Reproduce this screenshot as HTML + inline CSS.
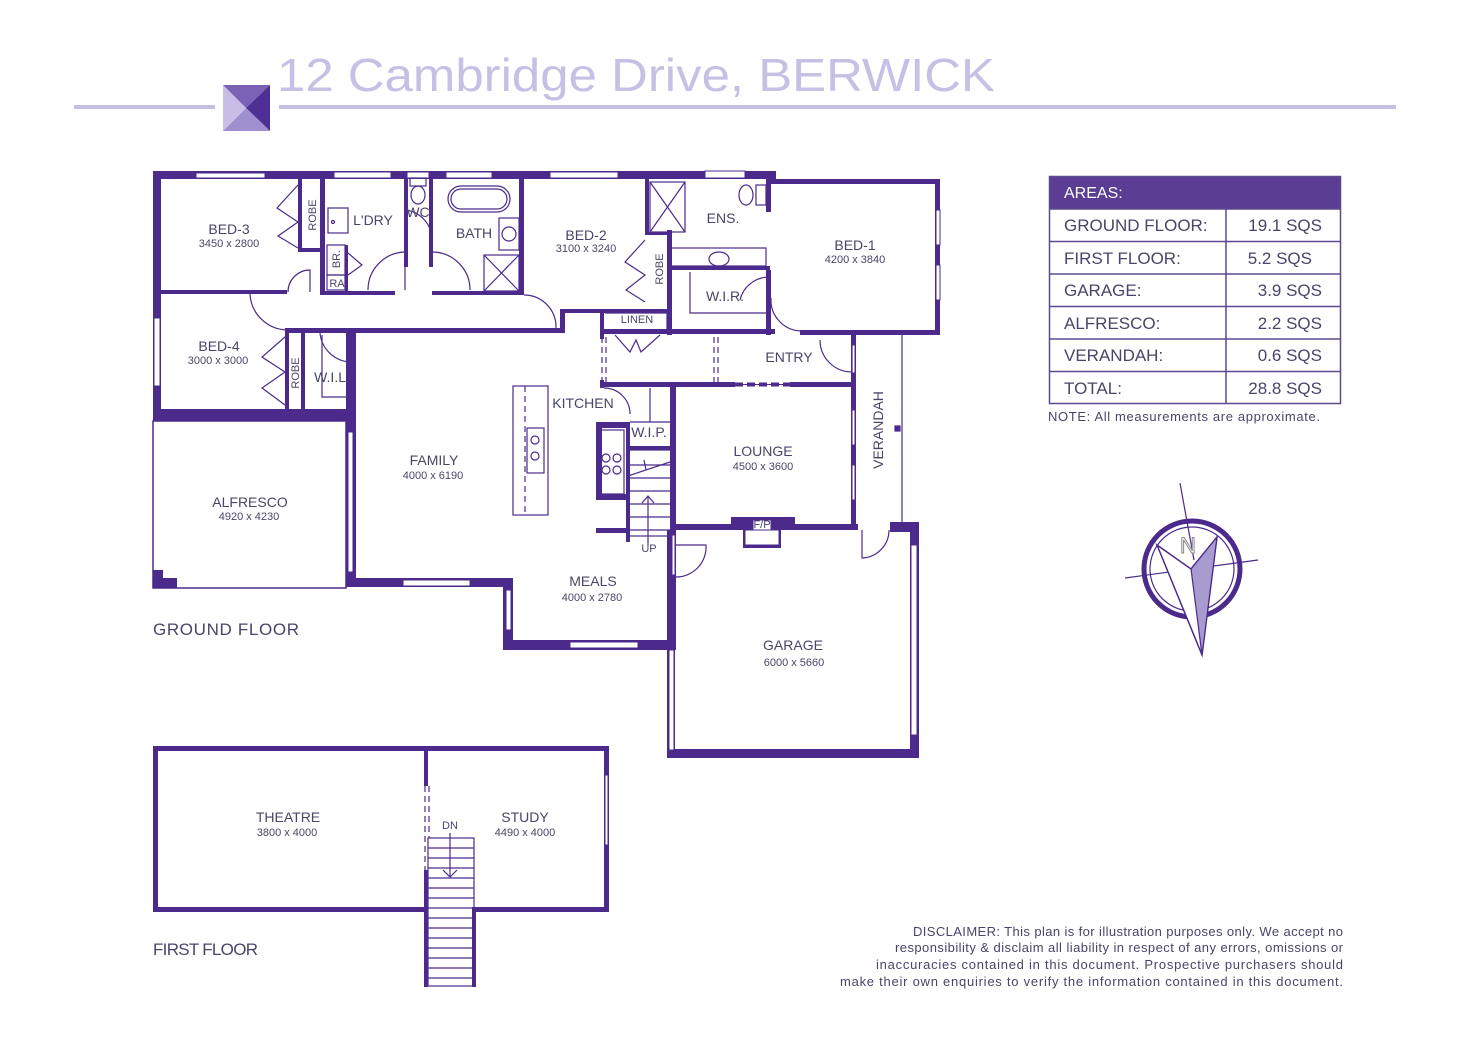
<!DOCTYPE html>
<html><head><meta charset="utf-8"><style>
html,body{margin:0;padding:0;background:#fff;}
svg{display:block;}
text{font-family:"Liberation Sans",sans-serif;}
.n{font-size:14px;fill:#4a4568;text-anchor:middle;}
.d{font-size:11px;fill:#4a4568;text-anchor:middle;}
.s{font-size:12px;fill:#4a4568;text-anchor:middle;}
</style></head><body>
<svg width="1472" height="1041" viewBox="0 0 1472 1041" xmlns="http://www.w3.org/2000/svg">
<!-- header -->
<text x="277" y="91" font-size="46" fill="#c6c1e4" textLength="718" lengthAdjust="spacingAndGlyphs">12 Cambridge Drive, BERWICK</text>
<rect x="74" y="105" width="141" height="4" fill="#c3bfe2"/>
<rect x="279" y="105" width="1117" height="4" fill="#c3bfe2"/>
<polygon points="223,85 270,85 246,108" fill="#7b62b6"/>
<polygon points="270,85 270,131 246,108" fill="#4d2f96"/>
<polygon points="223,131 270,131 246,108" fill="#9f8fcf"/>
<polygon points="223,85 223,131 246,108" fill="#c7bde6"/>

<g fill="#4b2a8c">
<rect x="153" y="171" width="623" height="8"/>
<rect x="153" y="171" width="8" height="250"/>
<rect x="153" y="409" width="203" height="12"/>
<rect x="161" y="290" width="126" height="4"/>
<rect x="298" y="179" width="4" height="72"/>
<rect x="298" y="248" width="24" height="4"/>
<rect x="320" y="179" width="5" height="116"/>
<rect x="320" y="291" width="75" height="4"/>
<rect x="345" y="245" width="3" height="46"/>
<rect x="404" y="179" width="4" height="88"/>
<rect x="429" y="179" width="4" height="88"/>
<rect x="432" y="291" width="92" height="4"/>
<rect x="519" y="179" width="5" height="116"/>
<rect x="285" y="328" width="280" height="5"/>
<rect x="560" y="309" width="5" height="24"/>
<rect x="560" y="309" width="110" height="4"/>
<rect x="600" y="309" width="4" height="30"/>
<rect x="667" y="230" width="5" height="105"/>
<rect x="600" y="329" width="175" height="5"/>
<rect x="645" y="179" width="4" height="56"/>
<rect x="645" y="232" width="27" height="3"/>
<rect x="670" y="266" width="100" height="4"/>
<rect x="766" y="179" width="5" height="33"/>
<rect x="766" y="270" width="5" height="65"/>
<rect x="766" y="179" width="174" height="5"/>
<rect x="935" y="179" width="5" height="156"/>
<rect x="800" y="330" width="140" height="5"/>
<rect x="285" y="330" width="4" height="80"/>
<rect x="301" y="333" width="4" height="76"/>
<rect x="346" y="333" width="10" height="254"/>
<rect x="346" y="578" width="167" height="9"/>
<rect x="503" y="578" width="10" height="72"/>
<rect x="503" y="640" width="170" height="10"/>
<rect x="600" y="380" width="4" height="8"/>
<rect x="600" y="382" width="255" height="5"/>
<rect x="670" y="382" width="6" height="268"/>
<rect x="596" y="422" width="30" height="6"/>
<rect x="596" y="422" width="6" height="78"/>
<rect x="596" y="494" width="30" height="6"/>
<rect x="626" y="446" width="48" height="4"/>
<rect x="626" y="422" width="4" height="120"/>
<rect x="596" y="528" width="30" height="5"/>
<rect x="851" y="335" width="5" height="195"/>
<rect x="673" y="524" width="185" height="6"/>
<rect x="731" y="517" width="64" height="10"/>
<rect x="743" y="527" width="38" height="21"/>
<rect x="667" y="530" width="8" height="228"/>
<rect x="667" y="749" width="252" height="9"/>
<rect x="890" y="522" width="29" height="10"/>
<rect x="910" y="522" width="9" height="236"/>
<rect x="153" y="570" width="10" height="18"/>
<rect x="163" y="578" width="14" height="10"/>
<rect x="153" y="746" width="456" height="5"/>
<rect x="153" y="746" width="5" height="166"/>
<rect x="153" y="907" width="272" height="5"/>
<rect x="474" y="907" width="135" height="5"/>
<rect x="604" y="746" width="5" height="166"/>
<rect x="424" y="746" width="4" height="40"/>
<rect x="424" y="870" width="4" height="117"/>
<rect x="472" y="907" width="4" height="80"/>
</g>

<g fill="#fff" stroke="#4b2a8c" stroke-width="1">
<rect x="196" y="173" width="69" height="5"/>
<rect x="334" y="172" width="57" height="6"/>
<rect x="407" y="172" width="22" height="6"/>
<rect x="446" y="172" width="46" height="6"/>
<rect x="550" y="172" width="68" height="6"/>
<rect x="705" y="171" width="40" height="7"/>
<rect x="936" y="210" width="4" height="35"/>
<rect x="936" y="265" width="4" height="35"/>
<rect x="154" y="318" width="6" height="68"/>
<rect x="348" y="432" width="5" height="140"/>
<rect x="403" y="580" width="67" height="6"/>
<rect x="506" y="590" width="5" height="40"/>
<rect x="570" y="642" width="68" height="6"/>
<rect x="852" y="345" width="3" height="28"/>
<rect x="852" y="410" width="3" height="35"/>
<rect x="852" y="465" width="3" height="35"/>
<rect x="911" y="545" width="6" height="190"/>
<rect x="669" y="650" width="5" height="100"/>
<rect x="672" y="535" width="3" height="40"/>
<rect x="605" y="775" width="3" height="70"/>
<rect x="753" y="520" width="18" height="10"/>
<rect x="745" y="530" width="34" height="15"/>
</g>

<g fill="none" stroke="#4b2a8c" stroke-width="1.2">
<rect x="153" y="421" width="193" height="167" stroke-width="1.5"/>
<line x1="902" y1="335" x2="902" y2="522"/>
<rect x="895" y="426" width="5" height="5" fill="#4b2a8c"/>
<rect x="513" y="386" width="35" height="129"/>
<line x1="525" y1="386" x2="525" y2="515" stroke-dasharray="6,4"/>
<rect x="527" y="428" width="17" height="45"/>
<circle cx="535" cy="440" r="4"/><circle cx="535" cy="456" r="4"/>
<line x1="602" y1="337" x2="602" y2="382" stroke-dasharray="6,4"/>
<line x1="606" y1="337" x2="606" y2="382" stroke-dasharray="6,4"/>
<line x1="714" y1="337" x2="714" y2="382" stroke-dasharray="6,4"/>
<line x1="718" y1="337" x2="718" y2="382" stroke-dasharray="6,4"/>
<path d="M735 383 H790 M735 386 H790" stroke="#fff" stroke-width="2"/>
<path d="M735 384.5 H790" stroke-dasharray="8,4" stroke-width="4"/>
<path d="M605 313 H667 V329" />
<path d="M615 335 L630 352 L636 340 L641 352 L660 335"/>
<rect x="628" y="450" width="44" height="86"/>
<path d="M628 465H672 M628 478H672 M628 491H672 M628 504H672 M628 517H672 M628 530H672"/>
<line x1="648" y1="545" x2="648" y2="496"/><path d="M642 503 L648 496 L654 503"/>
<path d="M628 476 L670 462 M644 460 L646 470"/>
<line x1="650" y1="388" x2="650" y2="422"/>
<line x1="630" y1="422" x2="672" y2="422"/>
<rect x="600" y="430" width="24" height="64"/>
<circle cx="606" cy="458" r="4"/><circle cx="617" cy="458" r="4"/><circle cx="606" cy="470" r="4"/><circle cx="617" cy="470" r="4"/>
<path d="M288 292 A22 22 0 0 1 310 270 V292"/>
<path d="M250 294 A38 38 0 0 0 288 330"/>
<path d="M368 290 A38 38 0 0 1 405 252 V290"/>
<path d="M433 252 A38 38 0 0 1 470 290"/>
<path d="M524 295 A32 32 0 0 1 556 328"/>
<path d="M320 333 A32 32 0 0 0 350 362 V333"/>
<path d="M604 388 A26 26 0 0 1 630 414"/>
<path d="M771 298 A31 31 0 0 0 802 331"/>
<path d="M740 300 A30 30 0 0 1 770 277"/>
<path d="M820 340 A32 32 0 0 0 852 372 V340"/>
<path d="M675 545 H706 A30 30 0 0 1 675 577"/>
<path d="M862 530 V558 A28 28 0 0 0 889 530"/>
<path d="M405 210 A30 30 0 0 1 432 240"/>
<path d="M298 185 L277 208 L298 222 L278 236 L298 248"/>
<path d="M645 240 L625 262 L645 275 L626 290 L645 302"/>
<path d="M285 337 L262 357 L285 372 L262 388 L285 405"/>
<path d="M322 335 V397 H348"/>
<rect x="327" y="275" width="18" height="15"/>
<rect x="327" y="245" width="18" height="30"/>
<path d="M348 253 L362 265 L348 275"/>
<rect x="328" y="208" width="20" height="25"/><circle cx="333" cy="222" r="1.5"/>
<rect x="448" y="186" width="62" height="26" rx="13"/>
<rect x="451" y="189" width="56" height="20" rx="10"/>
<rect x="499" y="218" width="20" height="32"/><circle cx="509" cy="234" r="7"/>
<rect x="484" y="255" width="35" height="36"/><path d="M484 255 L519 291 M519 255 L484 291"/>
<rect x="650" y="182" width="35" height="50"/><path d="M650 182 L685 232 M685 182 L650 232"/>
<rect x="670" y="248" width="96" height="18"/>
<ellipse cx="719" cy="259" rx="10" ry="7"/>
<path d="M690 272 V313 H766"/>
<ellipse cx="746" cy="195" rx="7" ry="10"/><rect x="756" y="185" width="10" height="20"/>
<ellipse cx="418" cy="195" rx="7" ry="9"/><rect x="410" y="178" width="16" height="8"/>
<rect x="428" y="838" width="46" height="148"/>
<path d="M428 848H474 M428 858H474 M428 868H474 M428 878H474 M428 888H474 M428 898H474 M428 908H474 M428 918H474 M428 928H474 M428 938H474 M428 948H474 M428 958H474 M428 968H474 M428 978H474"/>
<line x1="450" y1="833" x2="450" y2="877"/><path d="M443 870 L450 877 L457 870"/>
<line x1="425" y1="786" x2="425" y2="870" stroke-dasharray="6,4"/>
<line x1="429" y1="786" x2="429" y2="838" stroke-dasharray="6,4"/>
</g>

<text class="n" x="229" y="234">BED-3</text><text class="d" x="229" y="247">3450 x 2800</text>
<text class="n" x="373" y="225">L'DRY</text>
<text class="n" x="418" y="217">WC</text>
<text class="n" x="474" y="238">BATH</text>
<text class="n" x="586" y="240">BED-2</text><text class="d" x="586" y="252">3100 x 3240</text>
<text class="n" x="723" y="223">ENS.</text>
<text class="n" x="725" y="301">W.I.R.</text>
<text class="n" x="855" y="250">BED-1</text><text class="d" x="855" y="263">4200 x 3840</text>
<text class="n" x="219" y="351">BED-4</text><text class="d" x="218" y="364">3000 x 3000</text>
<text class="n" x="332" y="382">W.I.L.</text>
<text class="d" x="637" y="323">LINEN</text>
<text class="n" x="789" y="362">ENTRY</text>
<text class="n" x="583" y="408">KITCHEN</text>
<text class="n" x="649" y="437">W.I.P.</text>
<text class="n" x="434" y="465">FAMILY</text><text class="d" x="433" y="479">4000 x 6190</text>
<text class="n" x="763" y="456">LOUNGE</text><text class="d" x="763" y="470">4500 x 3600</text>
<text class="n" x="250" y="507">ALFRESCO</text><text class="d" x="249" y="520">4920 x 4230</text>
<text class="n" x="593" y="586">MEALS</text><text class="d" x="592" y="601">4000 x 2780</text>
<text class="n" x="793" y="650">GARAGE</text><text class="d" x="794" y="666">6000 x 5660</text>
<text class="d" x="762" y="528">F/P</text>
<text class="d" x="649" y="552">UP</text>
<text class="d" x="337" y="287">RA</text>
<text class="d" transform="translate(340,259) rotate(-90)">BR.</text>
<text class="d" transform="translate(316,215) rotate(-90)">ROBE</text>
<text class="d" transform="translate(663,269) rotate(-90)">ROBE</text>
<text class="d" transform="translate(299,373) rotate(-90)">ROBE</text>
<text class="n" transform="translate(883,430) rotate(-90)">VERANDAH</text>
<text class="n" x="288" y="822">THEATRE</text><text class="d" x="287" y="836">3800 x 4000</text>
<text class="n" x="525" y="822">STUDY</text><text class="d" x="525" y="836">4490 x 4000</text>
<text class="d" x="450" y="829">DN</text>
<text x="153" y="635" font-size="17" fill="#4a4568" textLength="146">GROUND FLOOR</text>
<text x="153" y="955" font-size="17" fill="#4a4568" textLength="105">FIRST FLOOR</text>

<rect x="1049" y="176" width="292" height="33" fill="#5b3e93"/>
<text x="1064" y="198" font-size="16" fill="#fff">AREAS:</text>
<g fill="none" stroke="#5b4a8f" stroke-width="1.5">
<rect x="1049.5" y="176.5" width="291" height="227"/>
<path d="M1049 209H1341 M1049 241.5H1341 M1049 274H1341 M1049 306.5H1341 M1049 339H1341 M1049 371.5H1341 M1226 209V404"/>
</g>
<g font-size="17" fill="#4a4568">
<text x="1064" y="231">GROUND FLOOR:</text><text x="1322" y="231" text-anchor="end">19.1 SQS</text>
<text x="1064" y="264">FIRST FLOOR:</text><text x="1312" y="264" text-anchor="end">5.2 SQS</text>
<text x="1064" y="296">GARAGE:</text><text x="1322" y="296" text-anchor="end">3.9 SQS</text>
<text x="1064" y="329">ALFRESCO:</text><text x="1322" y="329" text-anchor="end">2.2 SQS</text>
<text x="1064" y="361">VERANDAH:</text><text x="1322" y="361" text-anchor="end">0.6 SQS</text>
<text x="1064" y="394">TOTAL:</text><text x="1322" y="394" text-anchor="end">28.8 SQS</text>
</g>
<text x="1048" y="421" font-size="13" fill="#4a4568" textLength="272">NOTE: All measurements are approximate.</text>

<g fill="none" stroke="#4b2a8c">
<circle cx="1192" cy="569" r="48" stroke-width="5"/>
<circle cx="1192" cy="569" r="42" stroke-width="1.2"/>
<line x1="1180" y1="483" x2="1194" y2="560" stroke-width="1.2"/>
<line x1="1125" y1="578" x2="1258" y2="560" stroke-width="1.2"/>
<path d="M1157 545 L1202 655 L1217 537 L1191 569 Z" fill="#fff" stroke-width="1.5"/>
<path d="M1191 569 L1217 537 L1202 655 Z" fill="#a89bd0" stroke-width="1.2"/>
</g>
<text x="1188" y="553" font-size="22" fill="#fff" stroke="#888" stroke-width="1" text-anchor="middle" font-family="Liberation Serif">N</text>

<g font-size="13" fill="#4a4568">
<text x="913" y="936" textLength="430">DISCLAIMER: This plan is for illustration purposes only. We accept no</text>
<text x="895" y="952" textLength="448">responsibility &amp; disclaim all liability in respect of any errors, omissions or</text>
<text x="876" y="969" textLength="467">inaccuracies contained in this document. Prospective purchasers should</text>
<text x="840" y="986" textLength="503">make their own enquiries to verify the information contained in this document.</text>
</g>
</svg>
</body></html>
